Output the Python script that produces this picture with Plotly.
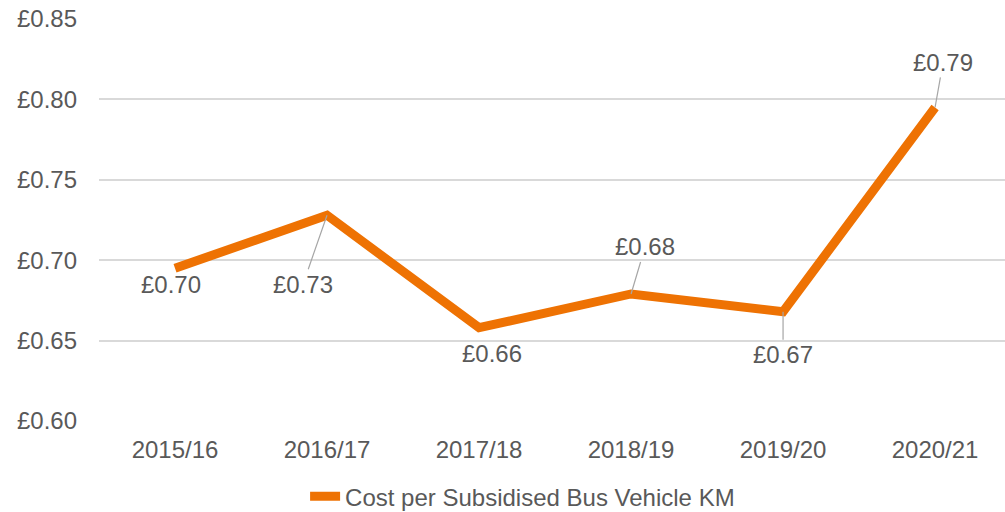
import plotly.graph_objects as go

years = ["2015/16", "2016/17", "2017/18", "2018/19", "2019/20", "2020/21"]
cost = [0.695, 0.728, 0.658, 0.679, 0.668, 0.795]
labels = ["£0.70", "£0.73", "£0.66", "£0.68", "£0.67", "£0.79"]
series_name = "Cost per Subsidised Bus Vehicle KM"
y_ticks = [0.60, 0.65, 0.70, 0.75, 0.80, 0.85]
y_tick_text = ["£0.60", "£0.65", "£0.70", "£0.75", "£0.80", "£0.85"]

# label offsets (pixels) relative to the data point
label_offsets = [(-4, 16), (-24, 69), (13, 26), (14, -47), (0, 43), (8, -45)]
show_leader = [False, True, False, True, True, True]

ORANGE = "#EE7203"
GREY = "#595959"
FONT = "Liberation Sans, Arial, sans-serif"
FS = 24

fig = go.Figure()
fig.add_trace(go.Scatter(
    x=list(range(len(years))), y=cost, mode="lines", name=series_name,
    line=dict(color=ORANGE, width=9),
))

for i, (v, t) in enumerate(zip(cost, labels)):
    ax, ay = label_offsets[i]
    if show_leader[i]:
        fig.add_annotation(x=i, y=v, text=t, showarrow=True, arrowhead=0,
                           arrowwidth=1.2, arrowcolor="#A6A6A6", ax=ax, ay=ay,
                           standoff=0, font=dict(size=FS, color=GREY, family=FONT))
    else:
        fig.add_annotation(x=i, y=v, text=t, showarrow=False,
                           xshift=ax, yshift=-ay,
                           font=dict(size=FS, color=GREY, family=FONT))

fig.update_layout(
    width=1005, height=512,
    margin=dict(l=99, r=0, t=19, b=91),
    paper_bgcolor="white", plot_bgcolor="white",
    font=dict(family=FONT, color=GREY, size=FS),
    showlegend=True,
    legend=dict(orientation="h", xref="container", yref="container",
                x=0.52, xanchor="center", y=0.03, yanchor="middle",
                font=dict(size=FS, color=GREY, family=FONT)),
    xaxis=dict(range=[-0.5, 5.46], tickmode="array",
               tickvals=list(range(len(years))), ticktext=years,
               showgrid=False, zeroline=False, showline=False,
               ticks="", ticklabelstandoff=12,
               tickfont=dict(size=FS, color=GREY, family=FONT)),
    yaxis=dict(range=[0.60, 0.85], tickmode="array", tickvals=y_ticks,
               ticktext=y_tick_text, showgrid=True, gridcolor="#D9D9D9",
               gridwidth=1.5, zeroline=False, showline=False,
               ticks="", ticklabelstandoff=21,
               tickfont=dict(size=FS, color=GREY, family=FONT)),
)

fig.write_html("out.html")
